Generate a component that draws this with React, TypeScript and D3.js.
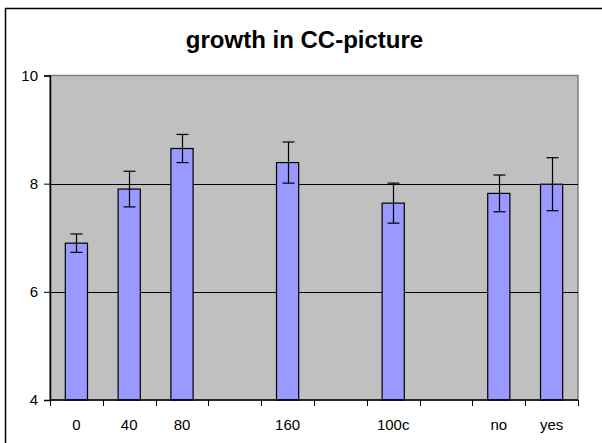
import React, { useEffect, useRef } from 'react';
import * as d3 from 'd3';

// slots along the x axis; empty strings are gaps with no bar
const categories = ['0', '40', '80', '', '160', '', '100c', '', 'no', 'yes'];
const means: (number | null)[] = [6.9, 7.9, 8.65, null, 8.39, null, 7.64, null, 7.82, 7.99];
const errors: (number | null)[] = [0.17, 0.33, 0.26, null, 0.38, null, 0.37, null, 0.34, 0.49];
const yTicks = [4, 6, 8, 10];
const title = 'growth in CC-picture';

const width = 602;
const height = 443;

const App: React.FC = () => {
  const svgRef = useRef<SVGSVGElement | null>(null);

  useEffect(() => {
    if (!svgRef.current) {
      return;
    }
    const svg = d3.select(svgRef.current);
    svg.selectAll('*').remove();

    const plot = { left: 50, right: 578, top: 75.5, bottom: 400 };
    const font = 'Arial, "Liberation Sans", sans-serif';

    // outer chart frame (cut off at right and bottom in the reference)
    svg
      .append('rect')
      .attr('x', 5.5)
      .attr('y', 8.5)
      .attr('width', 620)
      .attr('height', 460)
      .attr('fill', '#ffffff')
      .attr('stroke', '#000000')
      .attr('stroke-width', 1.5);

    svg
      .append('text')
      .attr('x', 304.5)
      .attr('y', 48)
      .attr('text-anchor', 'middle')
      .attr('font-family', font)
      .attr('font-weight', 700)
      .attr('font-size', 24)
      .attr('fill', '#000000')
      .text(title);

    const idx = categories.map((_, i) => String(i));
    const x = d3.scaleBand<string>().domain(idx).range([plot.left, plot.right]).padding(0);
    const y = d3.scaleLinear().domain([4, 10]).range([plot.bottom, plot.top]);

    svg
      .append('rect')
      .attr('x', plot.left)
      .attr('y', plot.top)
      .attr('width', plot.right - plot.left)
      .attr('height', plot.bottom - plot.top)
      .attr('fill', '#c0c0c0')
      .attr('stroke', '#808080')
      .attr('stroke-width', 1.5);

    // gridlines
    svg
      .append('g')
      .selectAll('line')
      .data(yTicks.filter(t => t > 4 && t < 10))
      .join('line')
      .attr('x1', plot.left)
      .attr('x2', plot.right)
      .attr('y1', d => Math.round(y(d)) + 0.5)
      .attr('y2', d => Math.round(y(d)) + 0.5)
      .attr('stroke', '#000000')
      .attr('stroke-width', 1.2);

    const barWidth = x.bandwidth() * 0.42;
    const data = categories
      .map((c, i) => ({ key: String(i), label: c, mean: means[i], err: errors[i] }))
      .filter(d => d.mean != null) as { key: string; label: string; mean: number; err: number }[];

    svg
      .append('g')
      .selectAll('rect')
      .data(data)
      .join('rect')
      .attr('x', d => (x(d.key) ?? 0) + x.bandwidth() / 2 - barWidth / 2)
      .attr('y', d => y(d.mean))
      .attr('width', barWidth)
      .attr('height', d => plot.bottom - y(d.mean))
      .attr('fill', '#9999ff')
      .attr('stroke', '#000000')
      .attr('stroke-width', 1.2);

    const errG = svg.append('g').attr('stroke', '#000000').attr('stroke-width', 1.2);
    data.forEach(d => {
      const cx = Math.round((x(d.key) ?? 0) + x.bandwidth() / 2) + 0.5;
      const y1 = y(d.mean + d.err);
      const y2 = y(d.mean - d.err);
      errG.append('line').attr('x1', cx).attr('x2', cx).attr('y1', y1).attr('y2', y2);
      errG.append('line').attr('x1', cx - 6).attr('x2', cx + 6).attr('y1', y1).attr('y2', y1);
      errG.append('line').attr('x1', cx - 6).attr('x2', cx + 6).attr('y1', y2).attr('y2', y2);
    });

    // y axis
    const yAxis = svg
      .append('g')
      .attr('transform', `translate(${plot.left},0)`)
      .call(d3.axisLeft(y).tickValues(yTicks).tickSize(6).tickPadding(6).tickFormat(d3.format('d')));
    yAxis.select('.domain').attr('stroke', '#000000').attr('stroke-width', 1.5);
    yAxis.selectAll('line').attr('stroke', '#000000');
    yAxis
      .selectAll('text')
      .attr('font-family', font)
      .attr('font-size', 15)
      .attr('fill', '#000000');

    // x axis: ticks on category boundaries
    const xAxisG = svg.append('g').attr('transform', `translate(0,${plot.bottom})`);
    xAxisG
      .append('line')
      .attr('x1', plot.left)
      .attr('x2', plot.right)
      .attr('stroke', '#000000')
      .attr('stroke-width', 1.5);
    const boundaries = idx.map(k => x(k) ?? 0).concat([plot.right]);
    xAxisG
      .selectAll('line.tick')
      .data(boundaries)
      .join('line')
      .attr('class', 'tick')
      .attr('x1', d => Math.round(d) + 0.5)
      .attr('x2', d => Math.round(d) + 0.5)
      .attr('y1', 0)
      .attr('y2', 6)
      .attr('stroke', '#000000');
    xAxisG
      .selectAll('text')
      .data(categories.map((c, i) => ({ c, key: String(i) })))
      .join('text')
      .attr('x', d => (x(d.key) ?? 0) + x.bandwidth() / 2)
      .attr('y', 30)
      .attr('text-anchor', 'middle')
      .attr('font-family', font)
      .attr('font-size', 15)
      .attr('fill', '#000000')
      .text(d => d.c);
  }, []);

  return (
    <svg
      ref={svgRef}
      width={width}
      height={height}
      viewBox={`0 0 ${width} ${height}`}
      style={{ position: 'absolute', left: 0, top: 0, background: '#ffffff' }}
    />
  );
};

export default App;
